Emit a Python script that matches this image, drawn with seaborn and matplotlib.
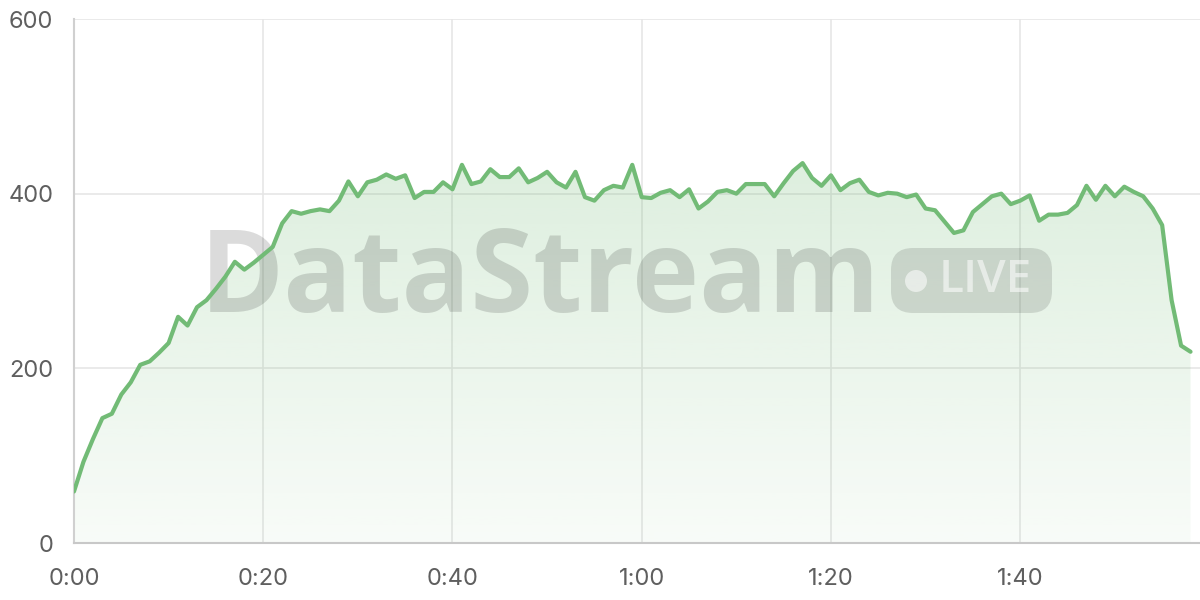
import numpy as np
import pandas as pd
import matplotlib
matplotlib.use("Agg")
import matplotlib.pyplot as plt
import seaborn as sns
from matplotlib.patches import FancyBboxPatch, Circle

# valeurs, une par minute
minutes = list(range(119))
valeurs = [
    59, 93, 119, 143, 148, 170, 184, 204, 208, 218,
    229, 259, 249, 270, 278, 291, 305, 322, 313, 321,
    330, 339, 366, 380, 377, 380, 382, 380, 392, 414,
    397, 413, 416, 422, 417, 421, 395, 402, 402, 413,
    405, 433, 411, 414, 428, 419, 419, 429, 413, 418,
    425, 413, 407, 425, 396, 392, 404, 409, 407, 433,
    396, 395, 401, 404, 396, 405, 383, 391, 402, 404,
    400, 411, 411, 411, 397, 412, 426, 435, 418, 409,
    421, 404, 412, 416, 402, 398, 401, 400, 396, 399,
    383, 381, 368, 355, 358, 379, 388, 397, 400, 388,
    392, 398, 369, 376, 376, 378, 387, 409, 393, 409,
    397, 408, 402, 397, 383, 364, 278, 226, 219,
]
x_ticks = [0, 20, 40, 60, 80, 100]
x_labels = ["0:00", "0:20", "0:40", "1:00", "1:20", "1:40"]
y_ticks = [0, 200, 400, 600]

vert = "#72bb76"
gris_texte = "#5f5f5f"

df = pd.DataFrame({"minute": minutes, "valeur": valeurs})

sns.set_style("white")
plt.rcParams["font.family"] = ["Inter", "DejaVu Sans"]

fig = plt.figure(figsize=(12, 6), dpi=100)
ax = fig.add_axes([74 / 1200, 57 / 600, 1126 / 1200, 524 / 600])

# remplissage en dégradé sous la courbe
poly = ax.fill_between(df["minute"], df["valeur"], 0, color="none", lw=0)
grad = np.linspace(0.05, 0.24, 256)
rgba = np.zeros((256, 1, 4))
rgba[..., :3] = matplotlib.colors.to_rgb(vert)
rgba[..., 3] = grad[:, None]
im = ax.imshow(rgba, extent=[0, 118, 0, 440], origin="lower", aspect="auto", zorder=1)
im.set_clip_path(poly.get_paths()[0], transform=ax.transData)

# filigrane (sous la courbe)
ax.text(540 / 1200, 1 - 312 / 600, "DataStream", transform=fig.transFigure,
        family=["Open Sans", "DejaVu Sans"], fontweight="bold", fontsize=82,
        color="black", alpha=0.14, ha="center", va="baseline", zorder=2, clip_on=False)
pill = FancyBboxPatch((8.91, (600 - 313) / 100), 1.61, 0.65,
                      boxstyle="round,pad=0,rounding_size=0.22",
                      transform=fig.dpi_scale_trans, facecolor="black", alpha=0.12,
                      edgecolor="none", zorder=2, clip_on=False)
ax.add_artist(pill)
dot = Circle((9.16, (600 - 281) / 100), 0.11, transform=fig.dpi_scale_trans,
             facecolor="white", alpha=0.55, edgecolor="none", zorder=2.1, clip_on=False)
ax.add_artist(dot)
ax.text(985 / 1200, 1 - 281 / 600, "LIVE", transform=fig.transFigure,
        family=["Open Sans", "DejaVu Sans"], fontweight="semibold", fontsize=33,
        color="white", alpha=0.55, ha="center", va="center", zorder=2.1, clip_on=False)

sns.lineplot(data=df, x="minute", y="valeur", ax=ax, color=vert, lw=3, zorder=3)

ax.set_xlim(0, 119)
ax.set_ylim(0, 600)
ax.set_xticks(x_ticks)
ax.set_xticklabels(x_labels)
ax.set_yticks(y_ticks)
ax.set_xlabel("")
ax.set_ylabel("")
ax.grid(True, color="#e6e6e6", lw=1.2, zorder=0)
ax.set_axisbelow(True)
for s in ["top", "right"]:
    ax.spines[s].set_visible(False)
ax.spines["left"].set_color("#d0d0d0")
ax.spines["bottom"].set_color("#c8c8c8")
ax.spines["left"].set_linewidth(1.5)
ax.spines["bottom"].set_linewidth(1.5)
ax.tick_params(axis="both", colors="#e0e0e0", labelcolor=gris_texte, labelsize=17,
               length=11, width=1.2)
ax.tick_params(axis="y", pad=4)
ax.tick_params(axis="x", pad=7)

fig.savefig("out.png", dpi=100)
